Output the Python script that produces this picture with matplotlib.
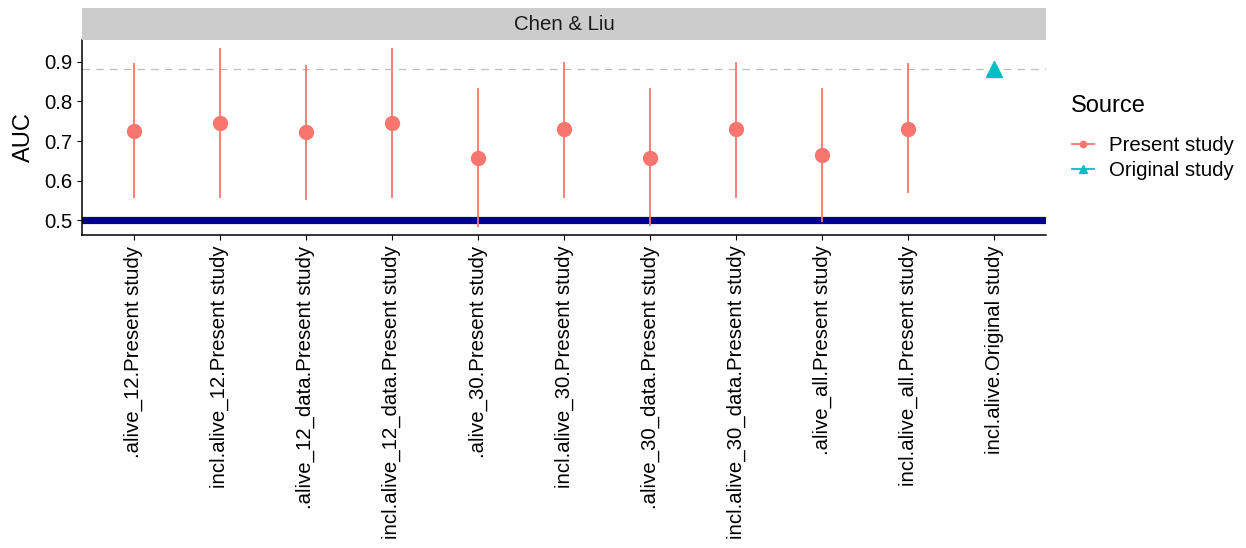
import numpy as np
import matplotlib.pyplot as plt
from matplotlib.lines import Line2D

plt.rcParams['font.family'] = ['Liberation Sans', 'DejaVu Sans']

# data
labels = ['.alive_12.Present study', 'incl.alive_12.Present study',
          '.alive_12_data.Present study', 'incl.alive_12_data.Present study',
          '.alive_30.Present study', 'incl.alive_30.Present study',
          '.alive_30_data.Present study', 'incl.alive_30_data.Present study',
          '.alive_all.Present study', 'incl.alive_all.Present study',
          'incl.alive.Original study']
present_auc = [0.726, 0.745, 0.724, 0.745, 0.658, 0.730, 0.658, 0.730, 0.664, 0.731]
present_lo = [0.556, 0.556, 0.552, 0.556, 0.483, 0.556, 0.485, 0.556, 0.496, 0.569]
present_hi = [0.896, 0.934, 0.893, 0.934, 0.833, 0.900, 0.833, 0.900, 0.833, 0.896]
original_auc = 0.883
chance = 0.5

RED = '#F8766D'
TEAL = '#00BFC4'
TXT = 14.7   # tick / legend / strip text
TITLE = 17   # axis + legend titles

fig = plt.figure(figsize=(12.46, 5.48), dpi=100)
ax = fig.add_axes([82 / 1246, 1 - 235 / 548, (1046 - 82) / 1246, (235 - 40) / 548])

x = np.arange(len(labels))
xp = x[:len(present_auc)]

ax.axhline(chance, color='#00008B', lw=5.2, zorder=1)
ax.axhline(original_auc, color='#BEBEBE', lw=0.9, ls=(0, (6, 5)), zorder=1)

ax.vlines(xp, present_lo, present_hi, color=RED, lw=1.3, zorder=3)
ax.plot(xp, present_auc, 'o', color=RED, ms=10, zorder=4)
ax.plot(x[-1], original_auc, '^', color=TEAL, ms=11, zorder=4)

ax.set_xlim(-0.6, len(labels) - 0.4)
ax.set_ylim(0.463, 0.955)
ax.set_yticks([0.5, 0.6, 0.7, 0.8, 0.9])
ax.set_xticks(x)
ax.set_xticklabels(labels, rotation=90, fontsize=TXT)
ax.tick_params(axis='y', labelsize=TXT, pad=3)
ax.tick_params(axis='x', pad=4)
ax.tick_params(length=3.6, width=0.8, color='black', labelcolor='black')
ax.set_ylabel('AUC', fontsize=TITLE, labelpad=7)

for s in ['top', 'right']:
    ax.spines[s].set_visible(False)
for s in ['left', 'bottom']:
    ax.spines[s].set_linewidth(1.1)

# facet strip
strip = fig.add_axes([82 / 1246, 1 - 40 / 548, (1046 - 82) / 1246, 32 / 548])
strip.set_facecolor('#CCCCCC')
strip.set_xticks([])
strip.set_yticks([])
for s in strip.spines.values():
    s.set_visible(False)
strip.text(0.5, 0.5, 'Chen & Liu', ha='center', va='center', fontsize=TXT, color='#1A1A1A')

# legend: title drawn separately to get ggplot's spacing
fig.text(1071 / 1246, 1 - 106 / 548, 'Source', fontsize=TITLE, ha='left', va='center')
handles = [
    Line2D([0], [0], color=RED, marker='o', ms=4.5, lw=1.3),
    Line2D([0], [0], color=TEAL, marker='^', ms=5.5, lw=1.3),
]
fig.legend(handles, ['Present study', 'Original study'],
           loc='upper left', bbox_to_anchor=(1072 / 1246, 1 - 136 / 548),
           frameon=False, fontsize=TXT, borderpad=0, borderaxespad=0,
           handlelength=1.1, handletextpad=0.7, labelspacing=0.3)

fig.savefig('out.png', dpi=100)
